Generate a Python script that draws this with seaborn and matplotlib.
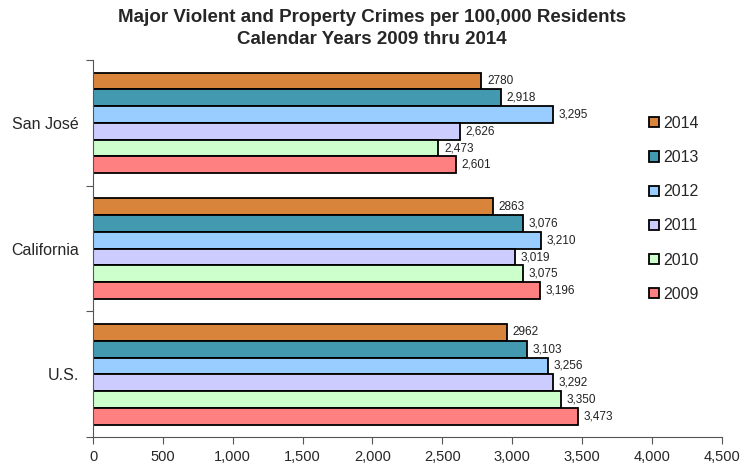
import matplotlib
matplotlib.use("Agg")
import matplotlib.pyplot as plt
import seaborn as sns
import pandas as pd
from matplotlib.ticker import FixedLocator

regions = ["San José", "California", "U.S."]
years = ["2014", "2013", "2012", "2011", "2010", "2009"]
v2014 = [2780, 2863, 2962]
v2013 = [2918, 3076, 3103]
v2012 = [3295, 3210, 3256]
v2011 = [2626, 3019, 3292]
v2010 = [2473, 3075, 3350]
v2009 = [2601, 3196, 3473]
labels2014 = ["2780", "2863", "2962"]
colors = ["#D9843B", "#4399B0", "#99CCFF", "#CCCCFF", "#CCFFCC", "#FF8080"]

series = [v2014, v2013, v2012, v2011, v2010, v2009]
rows = []
for y, vals in zip(years, series):
    for r, v in zip(regions, vals):
        rows.append({"Region": r, "Year": y, "Value": v})
df = pd.DataFrame(rows)

sns.set_theme(style="white")
plt.rcParams['font.family'] = ['Liberation Sans', 'DejaVu Sans']

fig = plt.figure(figsize=(7.44, 4.70), dpi=100)
ax = fig.add_axes([0.125, 0.070, 0.845, 0.802])

sns.barplot(data=df, y="Region", x="Value", hue="Year", order=regions,
            hue_order=years, palette=colors, saturation=1, orient="h", width=0.8,
            edgecolor="black", linewidth=1.3, ax=ax, legend=True)

for i, cont in enumerate(ax.containers):
    if i == 0:
        labs = labels2014
    else:
        labs = [f"{v:,}" for v in series[i]]
    ax.bar_label(cont, labels=labs, padding=4, fontsize=8.5, color="#222222")

ax.set_xlim(0, 4500)
ax.set_xticks(range(0, 4501, 500))
ax.set_xticklabels([f"{t:,}" for t in range(0, 4501, 500)], fontsize=10.5)
ax.set_ylim(2.5, -0.5)
ax.set_yticks(range(len(regions)))
ax.set_yticklabels(regions, fontsize=11.5)
ax.tick_params(axis="y", which="major", length=0, pad=10)
ax.yaxis.set_minor_locator(FixedLocator([-0.5, 0.5, 1.5, 2.5]))
ax.tick_params(axis="y", which="minor", left=True, length=5, width=0.8, color="#555555")
ax.tick_params(axis="x", which="major", bottom=True, length=5, width=0.8, color="#555555", pad=4)
ax.set_xlabel("")
ax.set_ylabel("")
for s in ["top", "right"]:
    ax.spines[s].set_visible(False)
for s in ["left", "bottom"]:
    ax.spines[s].set_color("#555555")
    ax.spines[s].set_linewidth(0.8)

handles, labs = ax.get_legend_handles_labels()
ax.legend(handles, labs, loc="upper left", bbox_to_anchor=(0.862, 0.89),
          frameon=False, handlelength=0.6, handleheight=0.6, labelspacing=1.2,
          handletextpad=0.3, fontsize=11.5)

fig.suptitle("Major Violent and Property Crimes per 100,000 Residents\nCalendar Years 2009 thru 2014",
             x=0.5, y=0.98, fontsize=13.5, fontweight="bold", linespacing=1.35)

fig.savefig("out.png", dpi=100)
